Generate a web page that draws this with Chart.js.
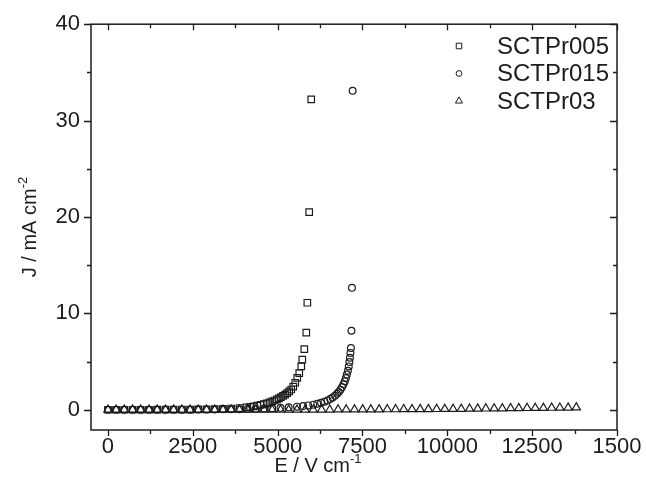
<!DOCTYPE html>
<html>
<head>
<meta charset="utf-8">
<script src="https://cdn.jsdelivr.net/npm/chart.js@4.4.0/dist/chart.umd.min.js"></script>
<style>
html, body { margin: 0; padding: 0; background: #fff; }
#wrap { width: 646px; height: 490px; }
</style>
</head>
<body>
<div id="wrap"><canvas id="chart" width="646" height="490"></canvas></div>
<script>
// E (V/cm) and J (mA/cm2)
const seriesNames = ['SCTPr005', 'SCTPr015', 'SCTPr03'];

const e005 = [0, 240, 480, 725, 965, 1210, 1450, 1695, 1935, 2180, 2420, 2660, 2905, 3145, 3390, 3630, 3875,
  4080, 4190, 4300, 4400, 4500, 4590, 4680, 4760, 4840, 4910, 4980, 5040, 5100, 5160, 5220, 5280, 5340, 5400,
  5460, 5519, 5578, 5637, 5696, 5726, 5785, 5844, 5875, 5930, 5990];
const j005 = [0, 0, 0, 0, 0, 0, 0.01, 0.01, 0.01, 0.02, 0.02, 0.03, 0.04, 0.06, 0.09, 0.13, 0.18,
  0.25, 0.3, 0.36, 0.43, 0.5, 0.58, 0.67, 0.76, 0.86, 0.96, 1.07, 1.18, 1.3, 1.43, 1.57, 1.72, 1.9, 2.1,
  2.4, 2.8, 3.3, 3.8, 4.5, 5.2, 6.3, 8.0, 11.1, 20.5, 32.2];

const e015 = [0, 240, 480, 725, 965, 1210, 1450, 1695, 1935, 2180, 2420, 2660, 2905, 3145, 3390, 3630, 3875,
  4115, 4355, 4600, 4840, 5085, 5325, 5570, 5750, 5900, 6050, 6170, 6280, 6380, 6470, 6550, 6620, 6690, 6750,
  6800, 6850, 6900, 6940, 6980, 7010, 7040, 7070, 7095, 7115, 7130, 7145, 7160, 7175, 7190, 7210];
const j015 = [0, 0, 0, 0, 0, 0, 0, 0, 0.01, 0.01, 0.01, 0.02, 0.02, 0.03, 0.04, 0.05, 0.06,
  0.08, 0.1, 0.13, 0.16, 0.2, 0.25, 0.32, 0.38, 0.45, 0.53, 0.62, 0.72, 0.84, 0.97, 1.12, 1.28, 1.46, 1.65,
  1.85, 2.08, 2.35, 2.65, 2.95, 3.3, 3.65, 4.05, 4.5, 4.95, 5.4, 5.9, 6.4, 8.2, 12.65, 33.1];

const e03 = [0, 240, 480, 725, 965, 1210, 1450, 1695, 1935, 2180, 2420, 2660, 2905, 3145, 3390, 3630, 3875,
  4115, 4355, 4600, 4840, 5085, 5325, 5570, 5810, 6050, 6295, 6535, 6780, 7020, 7265, 7505, 7745, 7990, 8230,
  8475, 8715, 8960, 9200, 9440, 9685, 9925, 10170, 10410, 10655, 10895, 11135, 11380, 11620, 11865, 12105,
  12350, 12590, 12830, 13075, 13315, 13560, 13800];
const j03 = [0, 0, 0, 0, 0, 0, 0, 0, 0, 0, 0, 0, 0, 0, 0, 0, 0,
  0, 0, 0, 0, 0, 0, 0, 0.01, 0.01, 0.01, 0.01, 0.02, 0.02, 0.02, 0.03, 0.03, 0.03, 0.04,
  0.04, 0.05, 0.05, 0.06, 0.06, 0.07, 0.08, 0.08, 0.09, 0.1, 0.11, 0.12, 0.13, 0.14, 0.15, 0.16,
  0.17, 0.18, 0.19, 0.2, 0.21, 0.22, 0.24];

const xTicks = [0, 2500, 5000, 7500, 10000, 12500, 15000];
const xTickLabels = ['0', '2500', '5000', '7500', '10000', '12500', '1500'];
const yTicks = [0, 10, 20, 30, 40];
const xMinorStep = 1250;
const yMinorStep = 5;

const ink = '#1c1c1c';
const font = '"Liberation Sans", Arial, sans-serif';

function toPoints(xs, ys) {
  return xs.map((v, i) => ({x: v, y: ys[i]}));
}

const styles = [
  {pointStyle: 'rect', radius: 4.6},
  {pointStyle: 'circle', radius: 3.4},
  {pointStyle: 'triangle', radius: 4.8}
];
const allData = [toPoints(e005, j005), toPoints(e015, j015), toPoints(e03, j03)];

const datasets = seriesNames.map((name, i) => ({
  label: name,
  data: allData[i],
  showLine: false,
  pointStyle: styles[i].pointStyle,
  pointRadius: styles[i].radius,
  pointBorderWidth: 1.2,
  pointBorderColor: ink,
  pointBackgroundColor: 'rgba(0,0,0,0)'
}));

// frame, ticks on all four sides, axis titles and legend
const decorations = {
  id: 'decorations',
  afterDraw(chart) {
    const {ctx, chartArea: a, scales: {x, y}} = chart;
    ctx.save();
    ctx.strokeStyle = ink;
    ctx.lineWidth = 1.5;
    ctx.strokeRect(a.left, a.top, a.right - a.left, a.bottom - a.top);

    ctx.lineWidth = 1.3;
    ctx.beginPath();
    for (let v = 0; v <= x.max; v += xMinorStep) {
      const px = Math.round(x.getPixelForValue(v)) + 0.5;
      const len = v % 2500 === 0 ? 6 : 4;
      ctx.moveTo(px, a.bottom); ctx.lineTo(px, a.bottom + len);
      ctx.moveTo(px, a.top); ctx.lineTo(px, a.top + len);
    }
    for (let v = 0; v <= y.max; v += yMinorStep) {
      const py = Math.round(y.getPixelForValue(v)) + 0.5;
      const len = v % 10 === 0 ? 7 : 4;
      ctx.moveTo(a.left, py); ctx.lineTo(a.left - len, py);
      ctx.moveTo(a.right, py); ctx.lineTo(a.right - len, py);
    }
    ctx.stroke();

    // axis titles with superscripts
    ctx.fillStyle = ink;
    ctx.textBaseline = 'alphabetic';
    ctx.textAlign = 'left';
    const mainFont = '20px ' + font, supFont = '13px ' + font;

    ctx.font = mainFont;
    let w1 = ctx.measureText('E / V cm').width;
    ctx.font = supFont;
    let w2 = ctx.measureText('-1').width;
    let sx = 318 - (w1 + w2) / 2;
    ctx.font = mainFont;
    ctx.fillText('E / V cm', sx, 472);
    ctx.font = supFont;
    ctx.fillText('-1', sx + w1, 463);

    ctx.save();
    ctx.translate(36, 227);
    ctx.rotate(-Math.PI / 2);
    ctx.font = mainFont;
    w1 = ctx.measureText('J / mA cm').width;
    ctx.font = supFont;
    w2 = ctx.measureText('-2').width;
    sx = -(w1 + w2) / 2;
    ctx.font = mainFont;
    ctx.fillText('J / mA cm', sx, 0);
    ctx.font = supFont;
    ctx.fillText('-2', sx + w1, -9);
    ctx.restore();

    // legend inside the plot
    ctx.font = '24px ' + font;
    ctx.textBaseline = 'middle';
    seriesNames.forEach((name, i) => {
      const ly = 46 + i * 27.5;
      ctx.strokeStyle = ink;
      ctx.fillStyle = 'rgba(0,0,0,0)';
      ctx.lineWidth = 1;
      Chart.helpers.drawPoint(ctx, {
        pointStyle: styles[i].pointStyle,
        radius: styles[i].radius * 0.85,
        rotation: 0,
        borderWidth: 1
      }, 459, ly);
      ctx.fillStyle = ink;
      ctx.fillText(name, 497, ly + 1);
    });
    ctx.restore();
  }
};

new Chart(document.getElementById('chart'), {
  type: 'scatter',
  data: {datasets: datasets},
  options: {
    responsive: false,
    animation: false,
    layout: {padding: {top: 24, right: 29, left: 0, bottom: 0}},
    plugins: {legend: {display: false}, tooltip: {enabled: false}},
    scales: {
      x: {
        type: 'linear',
        min: -500,
        max: 15000,
        grid: {display: false, drawTicks: false, tickLength: 0},
        border: {display: false},
        afterBuildTicks: s => { s.ticks = xTicks.map(v => ({value: v})); },
        afterFit: s => { s.height = 60; },
        ticks: {
          padding: 4,
          color: ink,
          font: {family: font, size: 22},
          maxRotation: 0,
          autoSkip: false,
          callback: v => xTickLabels[xTicks.indexOf(v)]
        }
      },
      y: {
        type: 'linear',
        min: -2.1,
        max: 40,
        grid: {display: false, drawTicks: false, tickLength: 0},
        border: {display: false},
        afterBuildTicks: s => { s.ticks = yTicks.map(v => ({value: v})); },
        afterFit: s => { s.width = 91; },
        ticks: {
          padding: 11,
          color: ink,
          font: {family: font, size: 22},
          autoSkip: false
        }
      }
    }
  },
  plugins: [decorations]
});
</script>
</body>
</html>
